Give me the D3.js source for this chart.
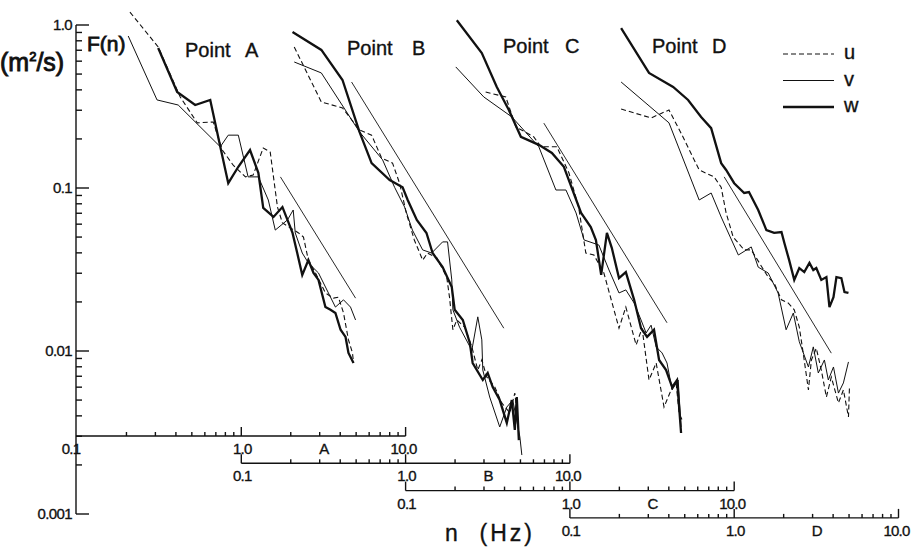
<!DOCTYPE html>
<html lang="en">
<meta charset="utf-8">
<head>
<title>F(n) spectra at points A-D</title>
<script src="https://d3js.org/d3.v7.min.js"></script>
<style>
  body { margin: 0; background: #fff; }
  svg text { font-family: "Liberation Sans", Arial, sans-serif; fill: #111; stroke: #111; stroke-width: 0.35; }
  .ax { stroke: #111; stroke-width: 1.4; fill: none; }
  .u { stroke: #111; stroke-width: 1.1; stroke-dasharray: 5,3; fill: none; }
  .v { stroke: #111; stroke-width: 1; fill: none; }
  .w { stroke: #111; stroke-width: 2.3; fill: none; }
  .ref { stroke: #111; stroke-width: 0.9; fill: none; }
</style>
</head>
<body>
<div id="chart"></div>
<script>
var panels = ["A", "B", "C", "D"];
var components = ["u", "v", "w"];
var yTickLabels = ["1.0", "0.1", "0.01", "0.001"];
var xTickLabels = ["0.1", "1.0", "10.0"];

// spectra, [n (Hz), F(n) (m2/s)]
var A_u = [[0.210,1.20],[0.312,0.733],[0.425,0.362],[0.539,0.251],[0.675,0.254],[0.766,0.171],[0.893,0.138],[1.06,0.117],[1.18,0.120],[1.36,0.176],[1.50,0.166],[1.57,0.117],[1.66,0.0764],[1.78,0.061],[2.23,0.053],[2.39,0.05],[2.56,0.0361],[2.83,0.0301],[3.25,0.0227],[3.64,0.0211],[3.90,0.0214],[4.19,0.0171],[4.49,0.0117],[4.75,0.00973],[4.82,0.00844]];
var A_v = [[0.205,0.856],[0.307,0.347],[0.413,0.323],[0.745,0.179],[0.833,0.211],[0.959,0.211],[1.10,0.117],[1.27,0.117],[1.46,0.0844],[1.61,0.0552],[1.91,0.0637],[2.07,0.0733],[2.13,0.053],[2.35,0.0399],[2.56,0.0347],[2.95,0.0301],[3.39,0.0227],[3.74,0.0186],[4.19,0.0206],[4.62,0.0186],[4.96,0.0155]];
var A_w = [[0.312,0.723],[0.407,0.388],[0.524,0.323],[0.647,0.347],[0.745,0.179],[0.833,0.107],[0.959,0.135],[1.13,0.171],[1.27,0.124],[1.36,0.0754],[1.57,0.0664],[1.78,0.0764],[1.91,0.0637],[2.05,0.053],[2.19,0.0399],[2.35,0.0293],[2.56,0.0361],[2.75,0.0301],[2.95,0.0273],[3.25,0.0186],[3.49,0.0179],[3.74,0.0171],[4.02,0.0135],[4.31,0.0122],[4.49,0.00973],[4.82,0.00844]];

var B_u = [[0.210,0.733],[0.307,0.337],[0.413,0.310],[0.524,0.227],[0.621,0.211],[0.714,0.153],[0.833,0.142],[0.919,0.107],[1.01,0.0703],[1.13,0.048],[1.27,0.0361],[1.36,0.0399],[1.55,0.0372],[1.78,0.0284],[1.85,0.0214],[1.94,0.0135],[2.05,0.0155],[2.29,0.014],[2.53,0.0106],[2.75,0.00764],[2.91,0.00881],[3.12,0.00692],[3.49,0.00601],[3.85,0.0048],[4.31,0.00417],[4.62,0.00552],[4.82,0.00377]];
var B_v = [[0.210,0.593],[0.307,0.508],[0.524,0.221],[0.724,0.149],[0.857,0.101],[0.986,0.0764],[1.10,0.0552],[1.27,0.0417],[1.44,0.0399],[1.68,0.0467],[1.80,0.0467],[1.91,0.0273],[1.94,0.0179],[2.13,0.014],[2.53,0.0101],[2.75,0.0162],[2.91,0.0117],[2.95,0.00764],[3.25,0.00522],[3.74,0.00342],[4.13,0.00453],[4.49,0.005],[4.96,0.00297],[5.10,0.0023]];
var B_w = [[0.205,0.906],[0.307,0.703],[0.413,0.46],[0.524,0.221],[0.621,0.142],[0.80,0.112],[0.959,0.101],[1.03,0.0844],[1.17,0.0637],[1.34,0.053],[1.46,0.0399],[1.68,0.0327],[1.91,0.0247],[1.99,0.0179],[2.23,0.0155],[2.46,0.0112],[2.56,0.00844],[2.95,0.00664],[3.16,0.00733],[3.39,0.00601],[3.74,0.005],[4.13,0.00362],[4.43,0.005],[4.62,0.00328],[4.75,0.00522],[4.89,0.00284]];

var C_u = [[0.307,0.388],[0.407,0.362],[0.469,0.237],[0.603,0.206],[0.666,0.179],[0.833,0.179],[0.986,0.124],[1.13,0.0764],[1.25,0.0399],[1.40,0.0388],[1.61,0.0301],[1.99,0.0138],[2.19,0.0186],[2.53,0.0109],[2.75,0.0138],[3.03,0.00664],[3.35,0.00844],[3.74,0.00453],[4.13,0.00577],[4.43,0.00637],[4.62,0.00417],[4.82,0.00377]];
var C_v = [[0.202,0.553],[0.299,0.362],[0.443,0.273],[0.647,0.179],[0.822,0.0972],[0.946,0.0972],[1.09,0.0703],[1.22,0.048],[1.50,0.0447],[1.73,0.0314],[1.99,0.0227],[2.19,0.0237],[2.46,0.0197],[2.71,0.0155],[2.91,0.0129],[3.12,0.0144],[3.35,0.0106],[3.64,0.00973],[3.90,0.00844],[4.19,0.00577],[4.56,0.00664],[4.75,0.00342]];
var C_w = [[0.205,1.07],[0.291,0.673],[0.359,0.417],[0.425,0.301],[0.503,0.206],[0.647,0.184],[0.777,0.164],[0.919,0.135],[1.17,0.0703],[1.34,0.0576],[1.44,0.048],[1.55,0.0293],[1.68,0.053],[1.80,0.0428],[1.99,0.028],[2.19,0.0305],[2.46,0.0206],[2.71,0.0138],[2.95,0.0122],[3.25,0.0135],[3.49,0.00881],[3.85,0.00764],[4.19,0.00601],[4.49,0.00664],[4.75,0.00314]];

var D_u = [[0.205,0.305],[0.312,0.269],[0.401,0.301],[0.475,0.217],[0.612,0.129],[0.755,0.117],[0.833,0.101],[0.893,0.0703],[0.986,0.05],[1.15,0.0417],[1.27,0.0417],[1.61,0.0284],[1.75,0.0261],[1.94,0.0206],[2.13,0.0197],[2.32,0.0179],[2.49,0.014],[2.63,0.00973],[2.83,0.00577],[2.95,0.00881],[3.16,0.0104],[3.39,0.00764],[3.64,0.00522],[3.90,0.00692],[4.31,0.0048],[4.62,0.00577],[4.96,0.00394],[5.03,0.00601]];
var D_v = [[0.205,0.447],[0.401,0.251],[0.612,0.0844],[0.724,0.0932],[0.833,0.0664],[1.06,0.0388],[1.27,0.0435],[1.40,0.0327],[1.61,0.0301],[1.85,0.0227],[2.07,0.0135],[2.29,0.0171],[2.49,0.0114],[2.83,0.00798],[3.03,0.0106],[3.25,0.00733],[3.54,0.00881],[3.74,0.00664],[4.02,0.00798],[4.31,0.00552],[4.62,0.00637],[4.96,0.00857]];
var D_w = [[0.205,0.958],[0.303,0.508],[0.425,0.417],[0.524,0.347],[0.629,0.273],[0.724,0.233],[0.833,0.142],[0.893,0.129],[1.00,0.107],[1.15,0.0932],[1.23,0.0945],[1.40,0.0733],[1.57,0.0552],[1.75,0.053],[1.94,0.0537],[2.02,0.046],[2.16,0.0361],[2.32,0.0273],[2.49,0.0323],[2.67,0.0305],[2.87,0.0347],[3.03,0.0314],[3.16,0.0323],[3.39,0.0273],[3.64,0.0284],[3.80,0.0186],[4.02,0.0214],[4.19,0.0284],[4.49,0.028],[4.69,0.023],[4.96,0.0227]];

// -5/3 reference lines, [n, F] at both ends
var ref_A = [[1.73,0.117],[4.96,0.0211]];
var ref_B = [[0.469,0.447],[3.96,0.0138]];
var ref_C = [[0.694,0.250],[3.90,0.0149]];
var ref_D = [[0.869,0.117],[3.90,0.0097]];

var spectra = {
    A: {u: A_u, v: A_v, w: A_w, ref: ref_A},
    B: {u: B_u, v: B_v, w: B_w, ref: ref_B},
    C: {u: C_u, v: C_v, w: C_w, ref: ref_C},
    D: {u: D_u, v: D_v, w: D_w, ref: ref_D}
};

var W = 911, H = 548;
var decade = 164.3;

var svg = d3.select("#chart").append("svg")
    .attr("width", W)
    .attr("height", H);

var y = d3.scaleLog().domain([0.001, 1]).range([514, 25]);
var yAxisX = 76;

// y axis
svg.append("line").attr("class", "ax")
    .attr("x1", yAxisX).attr("x2", yAxisX)
    .attr("y1", y(1)).attr("y2", y(0.001));

y.ticks().forEach(function(t) {
    var major = Math.abs(Math.log10(t) - Math.round(Math.log10(t))) < 1e-6;
    svg.append("line").attr("class", "ax")
        .attr("x1", yAxisX).attr("x2", yAxisX + (major ? 13 : 6))
        .attr("y1", y(t)).attr("y2", y(t));
});

yTickLabels.forEach(function(lab) {
    svg.append("text")
        .attr("x", 72).attr("y", y(+lab))
        .attr("dy", "0.35em")
        .attr("text-anchor", "end")
        .style("font-size", "15px")
        .style("letter-spacing", "-0.6px")
        .text(lab);
});

svg.append("text").attr("x", 0).attr("y", 71)
    .style("font-size", "25px")
    .style("stroke-width", "0.9")
    .html("(m<tspan dy='-10' style='font-size:13px'>2</tspan><tspan dy='10'>/s)</tspan>");

svg.append("text").attr("x", 87).attr("y", 51)
    .style("font-size", "21px")
    .style("stroke-width", "0.8")
    .text("F(n)");

// panels: each has its own frequency axis, shifted by one decade
var titleX = [185, 347, 503, 652];
var letterX = [245, 412, 565, 712];
var titleY = [57, 55, 53, 53];

panels.forEach(function(p, k) {
    var x0 = 77 + decade * k;
    var axY = 436 + 27.3 * k;
    var x = d3.scaleLog().domain([0.1, 10]).range([x0, x0 + 2 * decade]);

    var line = d3.line()
        .x(function(d) { return x(d[0]); })
        .y(function(d) { return y(d[1]); });

    var g = svg.append("g");

    // axis
    g.append("line").attr("class", "ax")
        .attr("x1", k == 0 ? yAxisX : x(0.1)).attr("x2", x(10))
        .attr("y1", axY).attr("y2", axY);

    x.ticks().forEach(function(t) {
        if (k == 0 && t == 0.1) return;
        var major = Math.abs(Math.log10(t) - Math.round(Math.log10(t))) < 1e-6;
        g.append("line").attr("class", "ax")
            .attr("x1", x(t)).attr("x2", x(t))
            .attr("y1", axY).attr("y2", axY - (major ? 9 : 4));
    });

    xTickLabels.forEach(function(lab) {
        var dx = 1;
        if (k == 0 && lab == "0.1") dx = -6;
        if (lab == "10.0") dx = -2;
        g.append("text")
            .attr("x", x(+lab) + dx)
            .attr("y", axY + 18)
            .attr("text-anchor", "middle")
            .style("font-size", "15px")
            .style("letter-spacing", "-0.8px")
            .text(lab);
    });

    g.append("text")
        .attr("x", x(3.2)).attr("y", axY + 18)
        .attr("text-anchor", "middle")
        .style("font-size", "15px")
        .text(p);

    // reference line
    g.append("path").attr("class", "ref").attr("d", line(spectra[p].ref));

    components.forEach(function(c) {
        g.append("path").attr("class", c).attr("d", line(spectra[p][c]));
    });

    svg.append("text").attr("x", titleX[k]).attr("y", titleY[k])
        .style("font-size", "20px").text("Point");
    svg.append("text").attr("x", letterX[k]).attr("y", titleY[k])
        .style("font-size", "20px").text(p);
});

// legend
components.forEach(function(c, i) {
    var ly = 54 + 26.5 * i;
    svg.append("line").attr("class", c)
        .attr("x1", 783).attr("x2", 834)
        .attr("y1", ly).attr("y2", ly);
    svg.append("text").attr("x", 844).attr("y", ly + 5)
        .style("font-size", "20px").text(c);
});

svg.append("text").attr("x", 445).attr("y", 541)
    .style("font-size", "23px")
    .style("letter-spacing", "3px")
    .attr("xml:space", "preserve")
    .text("n  (Hz)");
</script>
</body>
</html>
